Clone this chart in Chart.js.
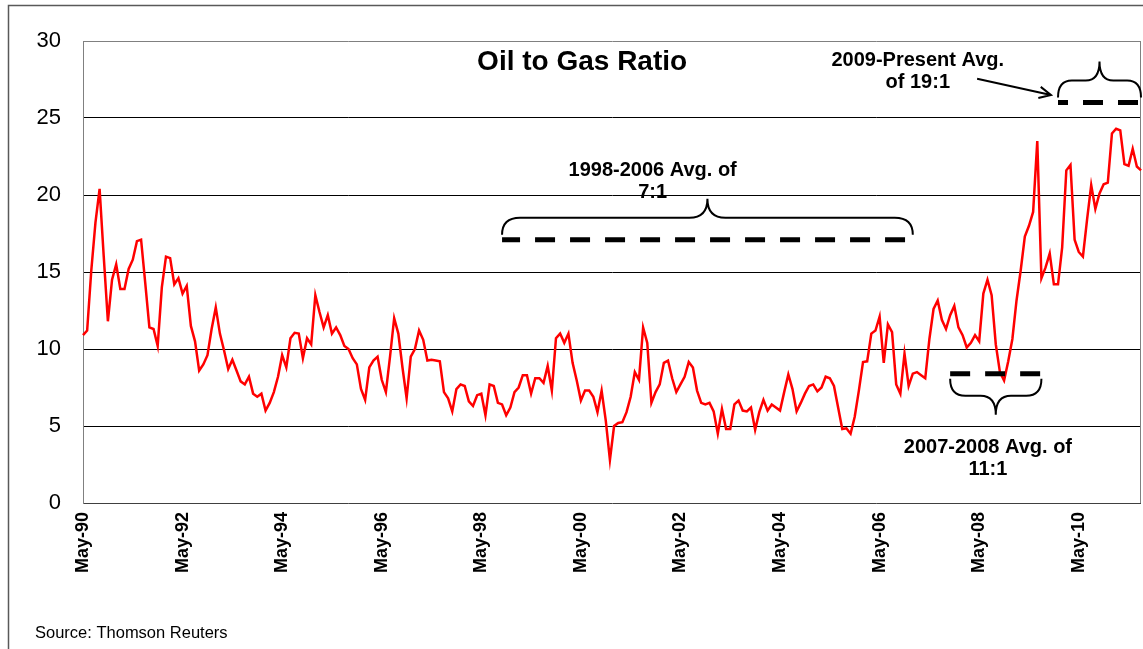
<!DOCTYPE html>
<html>
<head>
<meta charset="utf-8">
<script src="https://cdn.jsdelivr.net/npm/chart.js@4/dist/chart.umd.min.js"></script>
<style>
	html, body { margin: 0; padding: 0; background: #fff; }
</style>
</head>
<body>
<canvas id="myChart" width="1143" height="649"></canvas>
<script>
// monthly oil / gas ratio, May-90 .. Aug-11
const ratio = [
	10.9, 11.2, 15.1, 18.2, 20.4, 16.0, 11.8, 14.5, 15.5, 13.9, 13.9, 15.2,
	15.8, 17.0, 17.1, 14.3, 11.4, 11.3, 10.2, 14.0, 16.0, 15.9, 14.2, 14.6,
	13.6, 14.1, 11.5, 10.5, 8.6, 9.0, 9.6, 11.3, 12.7, 11.0, 9.9, 8.7,
	9.3, 8.6, 7.9, 7.7, 8.2, 7.1, 6.9, 7.1, 6.0, 6.5, 7.2, 8.2,
	9.6, 8.8, 10.7, 11.05, 11.0, 9.4, 10.7, 10.3, 13.5, 12.4, 11.4, 12.2,
	11.0, 11.4, 10.9, 10.2, 10.0, 9.4, 9.0, 7.4, 6.7, 8.8, 9.25, 9.5,
	8.0, 7.2, 9.5, 12.0, 11.0, 8.8, 6.8, 9.5, 10.0, 11.2, 10.6, 9.25,
	9.3, 9.25, 9.2, 7.2, 6.8, 5.95, 7.4, 7.7, 7.6, 6.6, 6.3, 7.0,
	7.1, 5.7, 7.7, 7.6, 6.5, 6.4, 5.7, 6.2, 7.2, 7.5, 8.3, 8.3,
	7.1, 8.1, 8.1, 7.8, 8.9, 7.3, 10.7, 11.0, 10.4, 11.0, 9.1, 7.95,
	6.65, 7.3, 7.3, 6.9, 5.9, 7.3, 5.35, 2.8, 5.0, 5.2, 5.25, 5.9,
	6.9, 8.5, 8.0, 11.4, 10.4, 6.5, 7.2, 7.7, 9.1, 9.25, 8.1, 7.2,
	7.7, 8.2, 9.15, 8.8, 7.3, 6.5, 6.4, 6.5, 5.95, 4.5, 6.1, 4.8,
	4.8, 6.4, 6.65, 6.0, 5.95, 6.2, 4.75, 5.9, 6.7, 6.0, 6.4, 6.2,
	6.0, 7.2, 8.35, 7.4, 5.95, 6.5, 7.1, 7.6, 7.7, 7.25, 7.5, 8.2,
	8.1, 7.6, 6.2, 4.8, 4.85, 4.5, 5.6, 7.3, 9.15, 9.2, 11.0, 11.2,
	12.1, 9.1, 11.6, 11.1, 7.7, 7.1, 9.7, 7.6, 8.4, 8.5, 8.3, 8.1,
	10.65, 12.6, 13.15, 11.9, 11.3, 12.2, 12.8, 11.4, 10.9, 10.1, 10.4, 10.9,
	10.5, 13.6, 14.5, 13.5, 10.3, 8.5, 7.95, 9.2, 10.65, 13.15, 15.1, 17.3,
	18.0, 18.9, 23.5, 14.6, 15.3, 16.2, 14.2, 14.2, 16.6, 21.6, 21.95, 17.1,
	16.3, 16.0, 18.4, 20.65, 19.1, 20.1, 20.7, 20.8, 24.0, 24.3, 24.2, 22.0,
	21.9, 23.0, 21.85, 21.6
]

// month labels
const monthNames = ['Jan', 'Feb', 'Mar', 'Apr', 'May', 'Jun', 'Jul', 'Aug', 'Sep', 'Oct', 'Nov', 'Dec']
const labels = ratio.map((v, i) => {
	const m = 4 + i
	const yr = (1990 + Math.floor(m / 12)) % 100
	return monthNames[m % 12] + '-' + String(yr).padStart(2, '0')
})
const tickEvery = 24

// average markers (dashed bars) : level, first month, last month
const avgLevels = [17.1, 8.4, 26]
const avgFrom = [101, 209, 235]
const avgTo = [200, 231, 255]
const avgDashOffset = [2, 0, 10]
const avgNotes = [
	['1998-2006 Avg. of', '7:1'],
	['2007-2008 Avg. of', '11:1'],
	['2009-Present Avg.', 'of 19:1']
]

const FONT = '"Liberation Sans", Arial, sans-serif'

// braces under / over the dashes
function drawBrace(ctx, x1, x2, yd, dir) {
	const yEnd = yd + dir * 5
	const yMid = yd + dir * 22
	const yTip = yd + dir * 41
	const xc = (x1 + x2) / 2
	const r = Math.min(18, (x2 - x1) / 6)
	ctx.beginPath()
	ctx.moveTo(x1, yEnd)
	ctx.quadraticCurveTo(x1, yMid, x1 + r, yMid)
	ctx.lineTo(xc - r, yMid)
	ctx.quadraticCurveTo(xc, yMid, xc, yTip)
	ctx.quadraticCurveTo(xc, yMid, xc + r, yMid)
	ctx.lineTo(x2 - r, yMid)
	ctx.quadraticCurveTo(x2, yMid, x2, yEnd)
	ctx.stroke()
}

const decorations = {
	id: 'decorations',
	beforeDraw: chart => {
		const ctx = chart.ctx
		ctx.save()
		ctx.fillStyle = '#fff'
		ctx.fillRect(0, 0, chart.width, chart.height)
		ctx.strokeStyle = '#595959'
		ctx.lineWidth = 1.5
		ctx.strokeRect(8.5, 5.5, chart.width + 20, chart.height + 20)
		ctx.restore()
	},
	beforeDatasetsDraw: chart => {
		const { ctx, chartArea } = chart
		ctx.save()
		ctx.strokeStyle = '#808080'
		ctx.lineWidth = 1
		ctx.beginPath()
		ctx.moveTo(Math.round(chartArea.right) - 0.5, chartArea.top)
		ctx.lineTo(Math.round(chartArea.right) - 0.5, chartArea.bottom)
		ctx.stroke()
		ctx.restore()
	},
	afterDatasetsDraw: chart => {
		const ctx = chart.ctx
		const px = i => chart.scales.x.getPixelForValue(i)
		const py = v => chart.scales.y.getPixelForValue(v)
		ctx.save()
		ctx.fillStyle = '#000'
		ctx.strokeStyle = '#000'
		ctx.textAlign = 'center'
		ctx.textBaseline = 'middle'

		// title
		ctx.font = 'bold 28px ' + FONT
		ctx.fillText('Oil to Gas Ratio', px(120.3), py(28.6))

		// braces
		ctx.lineWidth = 2
		drawBrace(ctx, px(avgFrom[0]), px(avgTo[0]), py(avgLevels[0]), -1)
		drawBrace(ctx, px(avgFrom[1]), px(avgTo[1]), py(avgLevels[1]), 1)
		drawBrace(ctx, px(avgFrom[2]), px(avgTo[2]), py(avgLevels[2]), -1)

		// notes
		ctx.font = 'bold 20px ' + FONT
		const notePos = [[137.3, 21.6], [218.1, 3.6], [201.2, 28.75]]
		avgNotes.forEach((lines, k) => {
			const [i, v] = notePos[k]
			ctx.fillText(lines[0], px(i), py(v))
			ctx.fillText(lines[1], px(i), py(v) + 22)
		})

		// arrow to the 2009 brace
		const ax1 = px(215.5), ay1 = py(27.55)
		const ax2 = px(233.3), ay2 = py(26.5)
		const ang = Math.atan2(ay2 - ay1, ax2 - ax1)
		ctx.beginPath()
		ctx.moveTo(ax1, ay1)
		ctx.lineTo(ax2, ay2)
		ctx.moveTo(ax2 - 13 * Math.cos(ang - 0.45), ay2 - 13 * Math.sin(ang - 0.45))
		ctx.lineTo(ax2, ay2)
		ctx.lineTo(ax2 - 13 * Math.cos(ang + 0.45), ay2 - 13 * Math.sin(ang + 0.45))
		ctx.stroke()

		// source
		ctx.textAlign = 'left'
		ctx.textBaseline = 'alphabetic'
		ctx.font = '16.5px ' + FONT
		ctx.fillText('Source: Thomson Reuters', 35, 638)
		ctx.restore()
	}
}

const chart = document.querySelector('#myChart').getContext('2d')

const myChart = new Chart(chart, {
	type: 'line',
	data: {
		labels: labels,
		datasets: [
			{
				data: ratio,
				borderColor: '#ff0000',
				borderWidth: 2.5,
				pointRadius: 0,
				tension: 0,
				order: 2
			},
			...avgLevels.map((lv, k) => ({
				data: ratio.map((v, i) => (i >= avgFrom[k] && i <= avgTo[k] ? lv : null)),
				borderColor: '#000',
				borderWidth: 5,
				borderDash: [20, 15],
				borderDashOffset: avgDashOffset[k],
				pointRadius: 0,
				order: 1
			}))
		]
	},
	options: {
		responsive: false,
		animation: false,
		devicePixelRatio: 1,
		layout: { padding: { left: 0, right: 2, top: 41, bottom: 0 } },
		plugins: {
			legend: { display: false },
			tooltip: { enabled: false }
		},
		scales: {
			x: {
				offset: false,
				grid: { display: false },
				border: { display: false },
				ticks: {
					autoSkip: false,
					minRotation: 90,
					maxRotation: 90,
					padding: 1,
					color: '#000',
					font: { family: FONT, size: 18, weight: 'bold' },
					callback: function (val, idx) {
						return idx % tickEvery === 0 ? this.getLabelForValue(val) : null
					}
				},
				afterFit: scale => { scale.height = 146 }
			},
			y: {
				min: 0,
				max: 30,
				grid: {
					drawTicks: false,
					color: c => (c.tick.value === 30 ? '#808080' : c.tick.value === 0 ? '#404040' : '#000')
				},
				border: { display: true, color: '#808080' },
				ticks: {
					stepSize: 5,
					padding: 22,
					color: '#000',
					font: { family: FONT, size: 22 }
				},
				afterFit: scale => { scale.width = 83 }
			}
		}
	},
	plugins: [decorations]
})
</script>
</body>
</html>
